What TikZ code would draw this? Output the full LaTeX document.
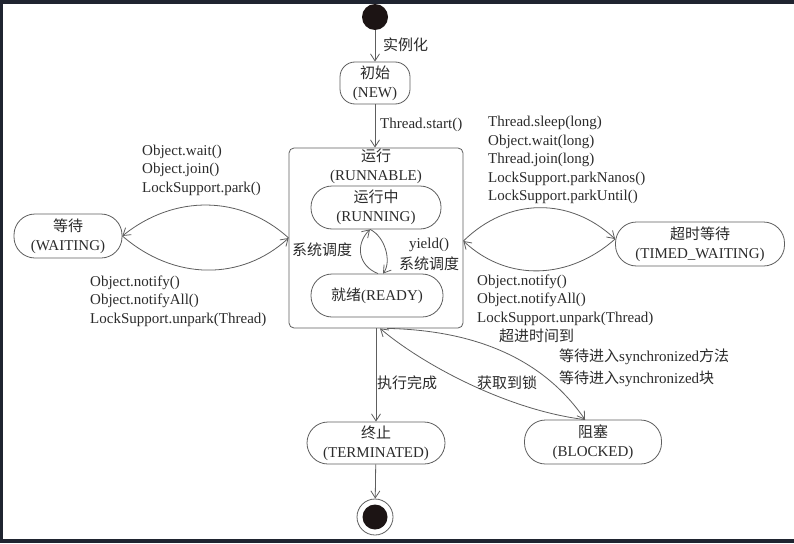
\documentclass[tikz,border=0pt]{standalone}
\usepackage{fontspec}
\setmainfont{Liberation Serif}
\newfontfamily\cjk{Noto Sans CJK SC}
\newcommand{\zh}[1]{{\cjk #1}}
\usetikzlibrary{arrows.meta}
\definecolor{linea}{HTML}{5E5E5E}
\definecolor{texto}{HTML}{2B2B2B}
\definecolor{marco}{HTML}{1F2430}
\definecolor{punto}{HTML}{1C1414}

\begin{document}
\begin{tikzpicture}[x=1pt,y=-1pt,
    estado/.style={draw=linea, line width=0.8pt, rounded corners=21pt, align=center,
        text=texto, font=\fontsize{15}{19}\selectfont, inner sep=0pt},
    etiq/.style={text=texto, font=\fontsize{15}{18.5}\selectfont, inner sep=0pt, align=left},
    flecha/.style={draw=linea, line width=0.8pt, -{Straight Barb[length=7pt,width=9pt]}}]
    % fondo
    \fill[marco] (0,0) rectangle (794,543);
    \fill[white] (3,4) rectangle (794,539);
    % estados
    \node[circle, fill=punto, minimum size=26pt, inner sep=0pt] (ini) at (375,17) {};
    \node[estado, minimum width=70pt, minimum height=42pt, rounded corners=15pt] (new) at (375,83) {\zh{初始}\\(NEW)};
    \node[draw=linea, line width=0.8pt, rounded corners=5pt, minimum width=174pt, minimum height=180pt, inner sep=0pt] (run) at (376,238) {};
    \node[etiq, align=center] (runt) at (376,166.5) {\zh{运行}\\(RUNNABLE)};
    \node[estado, minimum width=130pt, minimum height=43pt] (running) at (376,207.5) {\zh{运行中}\\(RUNNING)};
    \node[estado, minimum width=132pt, minimum height=43pt] (ready) at (377,295.5) {\zh{就绪}(READY)};
    \node[estado, minimum width=108pt, minimum height=44pt] (wait) at (68,236) {\zh{等待}\\(WAITING)};
    \node[estado, minimum width=169pt, minimum height=44pt] (timed) at (700,244) {\zh{超时等待}\\(TIMED\_WAITING)};
    \node[estado, minimum width=138pt, minimum height=42pt] (term) at (376,443) {\zh{终止}\\(TERMINATED)};
    \node[estado, minimum width=137pt, minimum height=44pt] (blocked) at (593,442) {\zh{阻塞}\\(BLOCKED)};
    \node[circle, draw=linea, line width=0.8pt, minimum size=36pt, inner sep=0pt] (fin) at (375,517) {};
    \fill[punto] (fin.center) circle (12.5);
    % transiciones
    \draw[flecha] (ini) -- (new);
    \draw[flecha] (new) -- (new |- run.north);
    \draw[flecha] (run.south) -- (term.north);
    \draw[flecha] (term) -- (fin);
    \draw[flecha] ([xshift=1pt]ready.north) .. controls +(-20,-8) and +(-15,15) .. ([xshift=-6pt]running.south);
    \draw[flecha] ([xshift=-6pt]running.south) .. controls +(15,7) and +(9,-12) .. ([xshift=6pt]ready.north);
    \draw[flecha] (run.west) .. controls +(-47,-43) and +(52,-42) .. (wait.east);
    \draw[flecha] (wait.east) .. controls +(52,45) and +(-47,43) .. (run.west);
    \draw[flecha] ([yshift=-3pt]run.east) .. controls +(45,-44) and +(-45,-42) .. ([yshift=5pt]timed.west);
    \draw[flecha] ([yshift=5pt]timed.west) .. controls +(-45,40) and +(45,42) .. ([yshift=-3pt]run.east);
    \draw[flecha] ([xshift=11pt]run.south) .. controls +(93,2) and +(-40,-58) .. ([xshift=-8pt]blocked.north);
    \draw[flecha] ([xshift=-8pt]blocked.north) .. controls +(-75,-9) and +(45,38) .. ([xshift=4pt]run.south);
    % etiquetas
    \node[etiq, anchor=west] (l1) at (383,45) {\zh{实例化}};
    \node[etiq, anchor=west] (l2) at (380,125) {Thread.start()};
    \node[etiq, anchor=west] (l3) at (142,170) {Object.wait()\\Object.join()\\LockSupport.park()};
    \node[etiq, anchor=west] (l4) at (90,301) {Object.notify()\\Object.notifyAll()\\LockSupport.unpark(Thread)};
    \node[etiq, anchor=west] (l5) at (488,160) {Thread.sleep(long)\\Object.wait(long)\\Thread.join(long)\\LockSupport.parkNanos()\\LockSupport.parkUntil()};
    \node[etiq, anchor=west] (l6) at (477,300) {Object.notify()\\Object.notifyAll()\\LockSupport.unpark(Thread)};
    \node[etiq, anchor=west] (l7) at (292,250) {\zh{系统调度}};
    \node[etiq, align=center] (l8) at (429,254.5) {yield()\\[2pt]\zh{系统调度}};
    \node[etiq, anchor=west] (l9) at (499,336) {\zh{超进时间到}};
    \node[etiq, anchor=west] (l10) at (559,368) {\zh{等待进入}synchronized\zh{方法}\\[3pt]\zh{等待进入}synchronized\zh{块}};
    \node[etiq, anchor=west] (l11) at (377,383) {\zh{执行完成}};
    \node[etiq, anchor=west] (l12) at (477,383) {\zh{获取到锁}};
\end{tikzpicture}
\end{document}
